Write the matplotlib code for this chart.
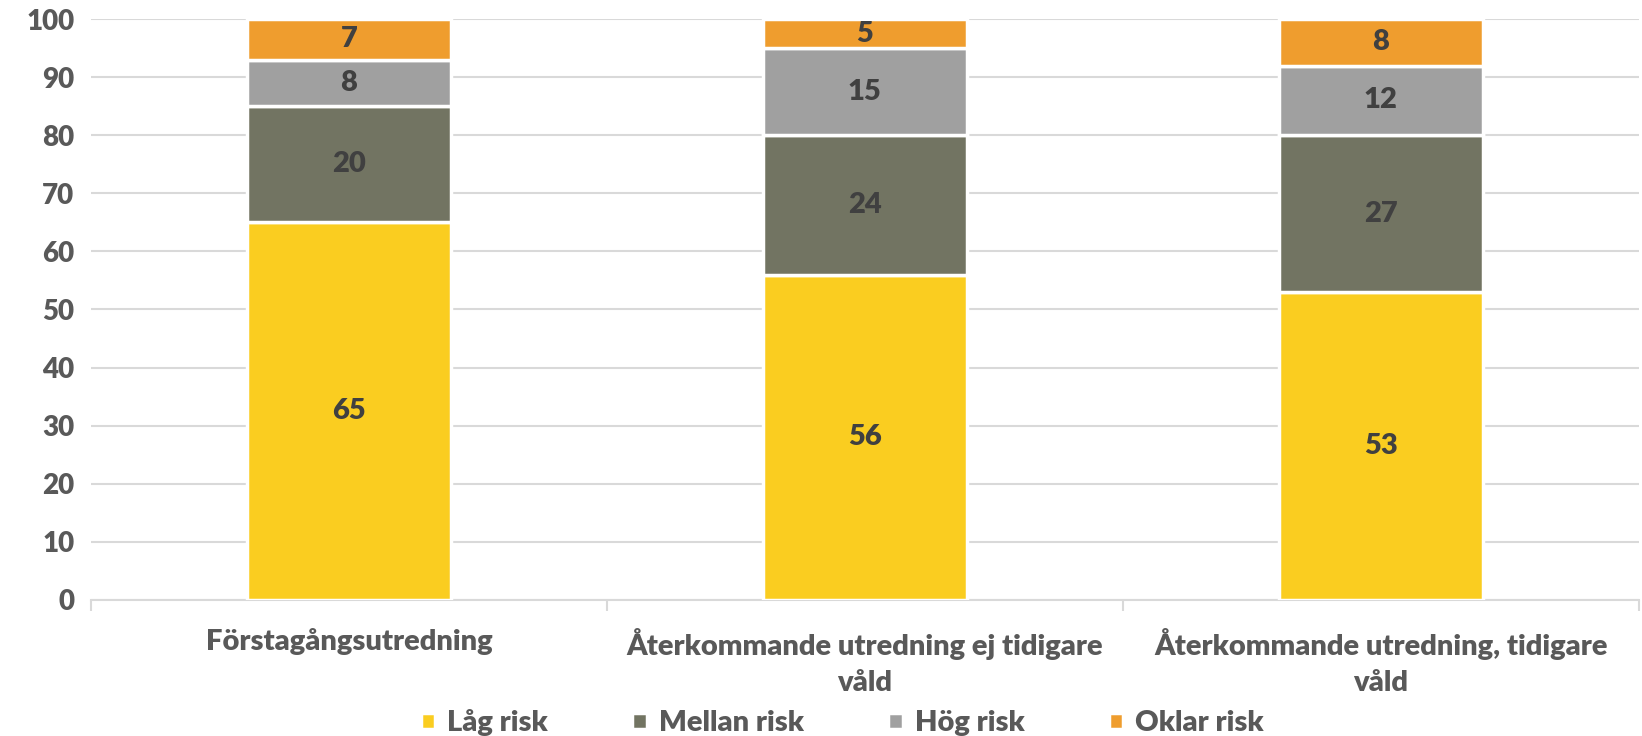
import matplotlib.pyplot as plt
import numpy as np

plt.rcParams['font.family'] = ['Lato', 'DejaVu Sans']

# Data
categories = ['Förstagångsutredning',
              'Återkommande utredning ej tidigare\nvåld',
              'Återkommande utredning, tidigare\nvåld']
series_names = ['Låg risk', 'Mellan risk', 'Hög risk', 'Oklar risk']
lag = [65, 56, 53]
mellan = [20, 24, 27]
hog = [8, 15, 12]
oklar = [7, 5, 8]
colors = ['#FACD20', '#727462', '#A0A0A0', '#EF9D2E']

fig = plt.figure(figsize=(16.42, 7.36), dpi=100)
ax = fig.add_axes([0.0554, 0.185, 0.9426, 0.789])

x = np.arange(len(categories))
bottom = np.zeros(len(categories))
for name, vals, col in zip(series_names, [lag, mellan, hog, oklar], colors):
    bars = ax.bar(x, vals, width=0.395, bottom=bottom, color=col,
                  edgecolor='white', linewidth=2.5, label=name, zorder=3)
    ax.bar_label(bars, labels=[str(v) for v in vals], label_type='center',
                 fontsize=21, fontweight='heavy', color='#404040')
    bottom += np.array(vals)

ax.set_xlim(-0.5, 2.5)
ax.set_ylim(0, 100)
ax.set_yticks(range(0, 101, 10))
ax.tick_params(axis='y', length=0, labelsize=20, labelcolor='#595959', pad=12)
for lbl in ax.get_yticklabels():
    lbl.set_fontweight('heavy')

ax.set_xticks(x)
ax.set_xticklabels(categories, fontsize=21, fontweight='heavy', color='#595959',
                   linespacing=1.5)
ax.tick_params(axis='x', length=0, pad=20)
ax.set_xticks([-0.5, 0.5, 1.5, 2.5], minor=True)
ax.tick_params(axis='x', which='minor', length=8, color='#D9D9D9', width=1.5)

ax.grid(axis='y', color='#D9D9D9', linewidth=1.5, zorder=0)
ax.set_axisbelow(True)
for s in ['left', 'right', 'top']:
    ax.spines[s].set_visible(False)
ax.spines['bottom'].set_color('#D9D9D9')
ax.spines['bottom'].set_linewidth(1.5)

fig.legend(loc='center', bbox_to_anchor=(0.513, 0.018), ncol=4, frameon=False,
           handlelength=0.5, handleheight=0.5, handletextpad=0.4,
           columnspacing=2.9, prop={'weight': 'heavy', 'size': 21})
for t in fig.legends[0].get_texts():
    t.set_color('#595959')

fig.savefig('out.png', dpi=100)
